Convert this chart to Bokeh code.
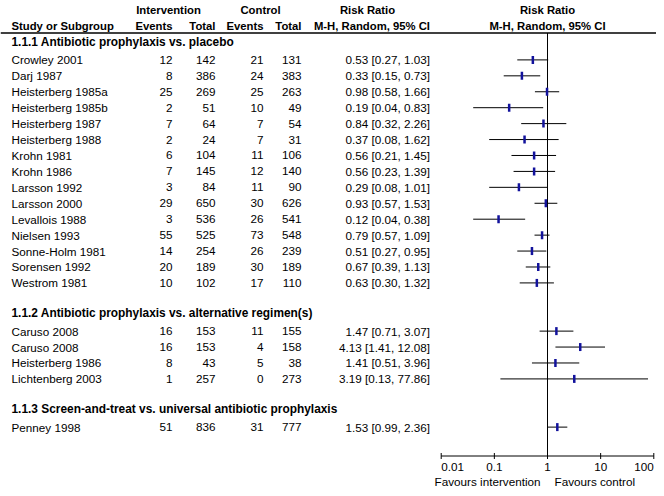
from bokeh.plotting import figure
from bokeh.models import Range1d, LogScale, ColumnDataSource
from bokeh.embed import file_html
from bokeh.resources import INLINE
from bokeh.core.properties import value

# ---------------- data ----------------
subgroups = [
    "1.1.1 Antibiotic prophylaxis vs. placebo",
    "1.1.2 Antibiotic prophylaxis vs. alternative regimen(s)",
    "1.1.3 Screen-and-treat vs. universal antibiotic prophylaxis",
]
study_group = [0] * 15 + [1] * 4 + [2]
studies = [
    "Crowley 2001", "Darj 1987", "Heisterberg 1985a", "Heisterberg 1985b",
    "Heisterberg 1987", "Heisterberg 1988", "Krohn 1981", "Krohn 1986",
    "Larsson 1992", "Larsson 2000", "Levallois 1988", "Nielsen 1993",
    "Sonne-Holm 1981", "Sorensen 1992", "Westrom 1981",
    "Caruso 2008", "Caruso 2008", "Heisterberg 1986", "Lichtenberg 2003",
    "Penney 1998",
]
int_events = [12, 8, 25, 2, 7, 2, 6, 7, 3, 29, 3, 55, 14, 20, 10, 16, 16, 8, 1, 51]
int_total = [142, 386, 269, 51, 64, 24, 104, 145, 84, 650, 536, 525, 254, 189, 102, 153, 153, 43, 257, 836]
ctl_events = [21, 24, 25, 10, 7, 7, 11, 12, 11, 30, 26, 73, 26, 30, 17, 11, 4, 5, 0, 31]
ctl_total = [131, 383, 263, 49, 54, 31, 106, 140, 90, 626, 541, 548, 239, 189, 110, 155, 158, 38, 273, 777]
risk_ratio = [0.53, 0.33, 0.98, 0.19, 0.84, 0.37, 0.56, 0.56, 0.29, 0.93, 0.12, 0.79, 0.51, 0.67, 0.63,
              1.47, 4.13, 1.41, 3.19, 1.53]
ci_low = [0.27, 0.15, 0.58, 0.04, 0.32, 0.08, 0.21, 0.23, 0.08, 0.57, 0.04, 0.57, 0.27, 0.39, 0.30,
          0.71, 1.41, 0.51, 0.13, 0.99]
ci_high = [1.03, 0.73, 1.66, 0.83, 2.26, 1.62, 1.45, 1.39, 1.01, 1.53, 0.38, 1.09, 0.95, 1.13, 1.32,
           3.07, 12.08, 3.96, 77.86, 2.36]
axis_ticks = [0.01, 0.1, 1, 10, 100]
axis_tick_labels = ["0.01", "0.1", "1", "10", "100"]
favours_left = "Favours intervention"
favours_right = "Favours control"

# ---------------- layout (picture pixel coordinates) ----------------
W, H = 656, 488
FONT = value("Liberation Sans")
FS = "11.7px"      # table body
FSB = "11.3px"     # column headers
FSH = "11.9px"     # subgroup headings
BLUE = "#12129c"

X_STUDY = 11
X_IE, X_IT, X_CE, X_CT, X_RR = 172, 215, 263, 301, 429.5
LOG_AX_LEFT = 440.7    # picture x of 0.01
DEC_PX = 53.15         # pixels per decade

HDR1_Y, HDR2_Y, RULE_Y = 9.5, 25.5, 32.5
AXIS_Y = 455.5
TICKLAB_Y = 466
FAV_Y = 481
HEAD_TO_FIRST = 17.7
ROW = 15.93
SECTION_GAP = 30.5

# row positions
head_y = []
row_y = []
y = 41.7
for g in range(len(subgroups)):
    head_y.append(y)
    y += HEAD_TO_FIRST
    idx = [i for i, s in enumerate(study_group) if s == g]
    for k, i in enumerate(idx):
        row_y.append(y)
        if k < len(idx) - 1:
            y += ROW
    y += SECTION_GAP

p = figure(width=W, height=H, output_backend="svg", toolbar_location=None,
           x_range=Range1d(0, W), y_range=Range1d(H, 0),
           x_axis_location=None, y_axis_location=None, min_border=0,
           outline_line_color=None, background_fill_color="white",
           border_fill_color="white")
p.xgrid.visible = False
p.ygrid.visible = False

lg0 = -2 - LOG_AX_LEFT / DEC_PX
lg1 = lg0 + W / DEC_PX
p.extra_x_ranges = {"rr": Range1d(10 ** lg0, 10 ** lg1)}
p.extra_x_scales = {"rr": LogScale()}

def txt(x, y, t, align="left", size=FS, bold=False, **kw):
    p.text(x=x, y=y, text=t, text_font=FONT, text_font_size=size,
           text_font_style="bold" if bold else "normal",
           text_align=align, text_baseline="middle", text_color="black", **kw)

# header
txt([168], [HDR1_Y], ["Intervention"], "center", FSB, True)
txt([260], [HDR1_Y], ["Control"], "center", FSB, True)
txt([367], [HDR1_Y], ["Risk Ratio"], "center", FSB, True)
txt([X_STUDY], [HDR2_Y], ["Study or Subgroup"], "left", FSB, True)
txt([X_IE, X_IT, X_CE, X_CT, X_RR], [HDR2_Y] * 5,
    ["Events", "Total", "Events", "Total", "M-H, Random, 95% CI"], "right", FSB, True)
txt([1], [HDR1_Y], ["Risk Ratio"], "center", FSB, True, x_range_name="rr")
txt([1], [HDR2_Y], ["M-H, Random, 95% CI"], "center", FSB, True, x_range_name="rr")
p.segment(x0=[0], x1=[W], y0=[RULE_Y], y1=[RULE_Y], line_color="black", line_width=1.3)

# subgroup headings
txt([X_STUDY] * len(subgroups), head_y, subgroups, "left", FSH, True)

src = ColumnDataSource(dict(
    y=row_y, study=studies,
    ie=[str(v) for v in int_events], it=[str(v) for v in int_total],
    ce=[str(v) for v in ctl_events], ct=[str(v) for v in ctl_total],
    rrtxt=["%.2f [%.2f, %.2f]" % (r, l, h) for r, l, h in zip(risk_ratio, ci_low, ci_high)],
    rr=risk_ratio, lo=ci_low, hi=ci_high,
))
for xcol, col, al in [(X_STUDY, "study", "left"), (X_IE, "ie", "right"), (X_IT, "it", "right"),
                      (X_CE, "ce", "right"), (X_CT, "ct", "right"), (X_RR, "rrtxt", "right")]:
    p.text(x=xcol, y="y", text=col, source=src, text_font=FONT, text_font_size=FS,
           text_align=al, text_baseline="middle", text_color="black")

# forest plot
p.segment(x0=[1], x1=[1], y0=[RULE_Y], y1=[AXIS_Y], x_range_name="rr",
          line_color="black", line_width=1)
p.segment(x0="lo", x1="hi", y0="y", y1="y", source=src, x_range_name="rr",
          line_color="black", line_width=1)
p.rect(x="rr", y="y", width=2.5, height=8, width_units="screen", height_units="screen",
       source=src, x_range_name="rr", fill_color=BLUE, line_color=None)

# axis
n = len(axis_ticks)
p.segment(x0=[min(axis_ticks)], x1=[max(axis_ticks)], y0=[AXIS_Y], y1=[AXIS_Y],
          x_range_name="rr", line_color="black", line_width=1)
p.segment(x0=axis_ticks, x1=axis_ticks, y0=[AXIS_Y - 3] * n, y1=[AXIS_Y + 3] * n,
          x_range_name="rr", line_color="black", line_width=1)
p.text(x=axis_ticks, y=[TICKLAB_Y] * n, text=axis_tick_labels, x_range_name="rr",
       text_align=["left"] + ["center"] * (n - 2) + ["right"],
       text_font=FONT, text_font_size=FS, text_baseline="middle", text_color="black")
txt([1], [FAV_Y], [favours_left], "right", FS, False, x_range_name="rr", x_offset=-7)
txt([1], [FAV_Y], [favours_right], "left", FS, False, x_range_name="rr", x_offset=7)

open("out.html", "w").write(file_html(p, INLINE))
